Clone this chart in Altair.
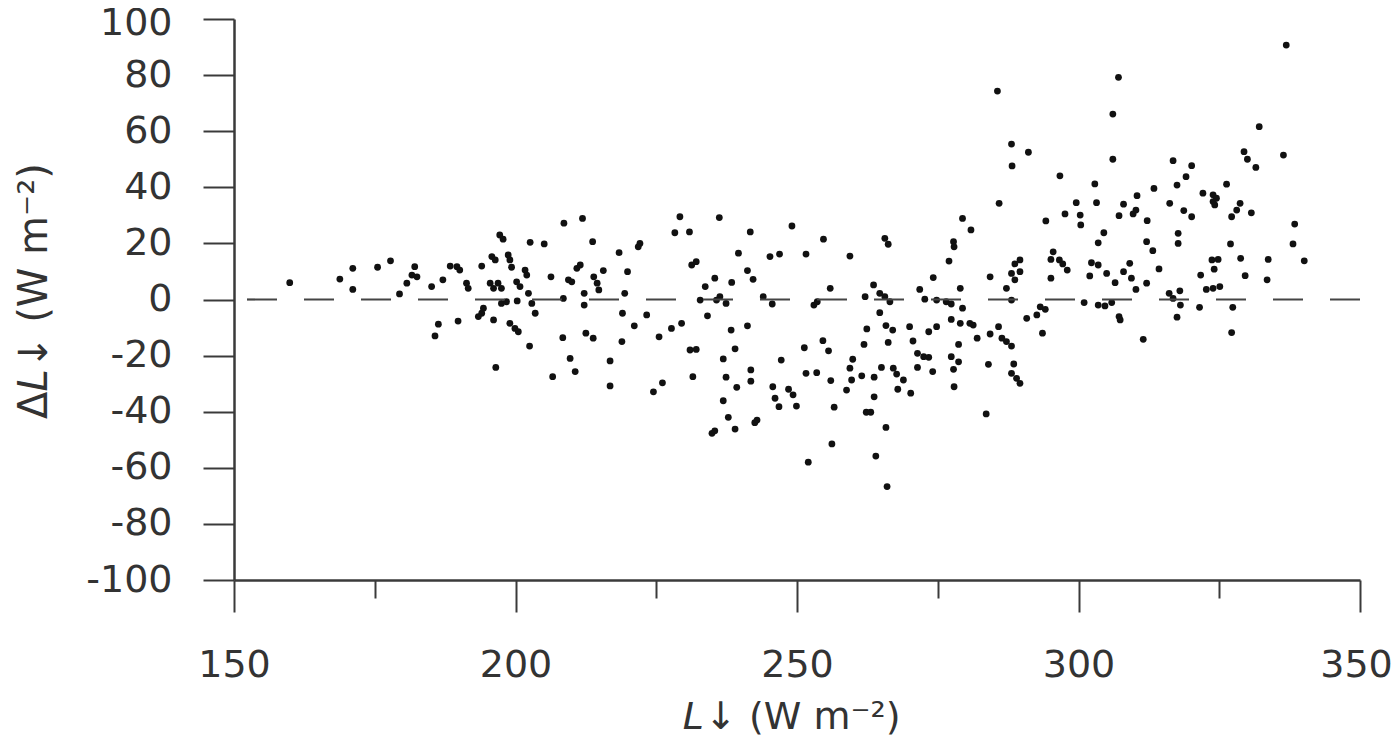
import altair as alt
import pandas as pd

# L-down (W m-2)
lw = [159.9, 168.8, 171.1, 171.1, 175.5, 177.8, 182.1, 181.6, 182.5, 180.7,
      179.4, 185.1, 187.1, 188.4, 189.6, 190.1, 186.3, 185.7, 189.8, 191.3,
      191.6, 194.0, 195.8, 196.4, 197.2, 197.8, 198.7, 199.0, 199.3, 195.5,
      196.1, 196.9, 197.5, 197.5, 198.4, 194.3, 194.0, 193.4, 196.1, 199.0,
      199.9, 200.5, 196.5, 200.2, 200.8, 201.7, 202.0, 202.3, 202.9, 203.5,
      202.6, 205.1, 200.3, 202.5, 206.3, 208.5, 208.6, 211.9, 213.7, 209.4,
      210.0, 210.9, 211.5, 212.2, 212.2, 213.9, 214.5, 214.8, 215.6, 208.4,
      209.7, 212.5, 213.8, 210.6, 206.6, 216.8, 216.8, 218.9, 219.0, 219.4,
      219.9, 218.4, 221.1, 222.1, 221.8,
      229.2, 236.2, 228.3, 230.9, 241.7, 249.1, 239.6, 245.2, 246.9, 251.6,
      231.3, 232.1, 241.2, 242.2, 235.4, 238.4, 233.7, 232.8, 235.7, 236.3,
      237.4, 244.0, 245.6, 253.0, 253.6, 223.3, 234.1, 225.5, 227.7, 229.5,
      238.3, 241.2, 231.0, 232.1, 239.0, 251.3, 236.9, 247.2, 231.5, 237.4,
      241.8, 241.8, 251.6, 253.5, 226.1, 224.5, 239.3, 245.7, 248.5, 249.3,
      236.9, 237.8, 239.0, 242.5, 242.9, 234.9, 235.4, 252.0, 246.1, 246.8,
      249.9,
      279.4, 280.9, 277.8, 277.9, 277.0, 254.7, 259.4, 265.6, 266.2, 274.2,
      284.3, 255.9, 263.6, 262.1, 264.7, 265.6, 266.5, 264.7, 271.8, 272.7,
      274.8, 276.5, 279.0, 277.4, 279.4, 262.4, 265.8, 267.0, 270.0, 273.4,
      274.8, 277.4, 279.0, 280.7, 281.3, 282.0, 284.3, 285.8, 254.6, 255.6,
      261.9, 266.2, 270.6, 271.4, 272.5, 273.4, 278.7, 277.4, 278.7, 259.9,
      259.4, 256.0, 259.7, 261.5, 263.7, 265.0, 267.1, 267.7, 268.9, 271.4,
      274.1, 277.8, 284.0, 258.8, 263.7, 267.9, 270.2, 277.9, 256.6, 262.3,
      263.1, 265.8, 256.2, 264.0, 266.0, 283.6, 285.9,
      285.6, 288.1, 291.1, 288.2, 296.7, 294.2, 297.6, 299.6, 300.3, 300.4,
      302.9, 303.2, 306.1, 307.1, 306.1, 316.8, 313.4, 310.4, 308.0, 307.2,
      309.7, 310.2, 312.2, 316.2, 317.5, 304.5, 303.5, 312.1, 313.2, 314.3,
      317.7, 317.7, 289.6, 288.7, 288.1, 289.6, 288.7, 287.2, 295.1, 295.5,
      295.1, 296.6, 297.2, 298.0, 302.3, 303.5, 302.0, 305.0, 306.5, 309.1,
      308.0, 309.4, 310.2, 312.1, 288.1, 290.8, 292.6, 293.2, 294.1, 293.6,
      301.0, 303.5, 304.7, 305.9, 307.2, 307.4, 311.5, 316.1, 316.8, 317.5,
      286.4, 287.2, 288.1, 288.5, 288.1, 289.0, 289.6,
      336.9, 332.1, 336.4, 329.4, 330.0, 331.5, 320.1, 319.1, 326.3, 322.1,
      323.9, 324.5, 324.2, 323.9, 318.7, 320.1, 328.7, 328.1, 327.2, 330.7,
      338.4, 338.1, 340.1, 327.0, 328.8, 333.7, 323.7, 324.8, 324.1, 321.7,
      329.6, 333.5, 322.7, 323.9, 325.1, 318.0, 318.1, 321.5, 327.4, 327.2]

# Delta L-down (W m-2)
dlw = [6.0, 7.3, 11.1, 3.6, 11.5, 13.8, 11.7, 8.7, 8.1, 5.8,
       2.0, 4.6, 7.0, 11.9, 11.7, 10.5, -8.8, -13.0, -7.7, 5.8,
       4.0, 11.9, 15.3, 14.1, 23.0, 21.5, 15.9, 14.1, 11.5, 5.8,
       4.0, 5.8, 4.0, -1.4, -0.8, -3.1, -4.9, -6.1, -7.3, -8.5,
       -10.3, -11.5, -24.2, 6.3, 4.6, 10.5, 8.7, 2.2, -1.4, -4.9,
       20.4, 19.8, -0.5, -16.6, 8.1, 0.4, 27.2, 28.9, 20.6, 7.0,
       6.3, 11.1, 12.3, 2.2, -2.0, 8.1, 5.8, 3.4, 10.3, -13.6,
       -21.0, -12.0, -13.8, -25.7, -27.5, -21.9, -30.8, -15.0, -4.9, 2.2,
       9.9, 16.7, -9.4, 20.0, 18.8,
       29.5, 29.2, 23.8, 24.1, 24.1, 26.2, 16.5, 15.3, 16.2, 16.2,
       12.3, 13.5, 10.3, 7.2, 7.6, 6.1, 4.6, -0.2, -0.2, 1.0,
       -1.4, 1.0, -1.6, -2.0, -0.8, -5.5, -5.8, -13.3, -10.3, -8.5,
       -10.9, -9.4, -18.0, -17.8, -17.6, -17.2, -21.2, -21.6, -27.5, -27.7,
       -25.1, -29.1, -26.3, -26.1, -29.7, -32.9, -31.3, -31.1, -32.0, -34.0,
       -36.1, -42.0, -46.2, -43.9, -43.0, -47.7, -46.8, -58.0, -35.2, -38.2,
       -38.0,
       28.9, 24.8, 20.6, 18.8, 13.7, 21.5, 15.5, 21.8, 19.7, 7.8,
       8.1, 4.0, 5.2, 1.0, 2.2, 1.0, -0.8, -4.7, 3.6, 0.1,
       -0.2, -0.8, 4.0, -1.6, -3.1, -10.5, -9.3, -10.9, -9.7, -11.5,
       -9.7, -7.1, -8.5, -8.5, -9.1, -13.8, -12.3, -9.7, -14.7, -18.3,
       -16.0, -15.3, -14.8, -19.2, -20.4, -20.6, -16.0, -20.4, -22.2, -21.3,
       -24.5, -28.9, -28.7, -27.2, -27.7, -24.2, -24.5, -26.6, -28.7, -24.2,
       -25.7, -24.9, -23.1, -32.3, -34.7, -32.0, -33.4, -31.1, -38.4, -40.2,
       -40.2, -45.6, -51.5, -55.8, -66.7, -40.8, 34.3,
       74.3, 55.4, 52.5, 47.6, 44.1, 28.0, 30.5, 34.5, 30.1, 26.6,
       41.2, 34.5, 66.1, 79.2, 50.0, 49.5, 39.6, 37.0, 34.0, 29.9,
       30.5, 31.9, 28.1, 34.3, 40.8, 23.8, 20.2, 20.6, 17.4, 10.9,
       23.6, 20.0, 14.1, 12.7, 9.3, 9.9, 7.0, 4.0, 7.6, 17.0,
       14.3, 14.1, 12.7, 10.5, 13.1, 12.3, 8.4, 9.3, 6.0, 12.9,
       9.9, 7.6, 3.6, 5.8, -0.2, -6.7, -5.5, -2.6, -3.5, -12.0,
       -1.1, -2.0, -2.3, -1.1, -6.1, -7.3, -14.2, 2.2, 0.4, -6.3,
       -13.8, -15.0, -16.6, -23.0, -26.3, -28.1, -29.9,
       90.7, 61.6, 51.5, 52.7, 50.0, 47.1, 47.7, 43.8, 41.1, 37.9,
       37.3, 36.1, 33.7, 34.9, 31.7, 29.5, 34.3, 31.9, 29.5, 30.9,
       26.9, 19.8, 13.8, 19.8, 14.7, 14.3, 14.1, 14.3, 10.8, 8.7,
       8.5, 7.0, 3.6, 4.0, 4.6, 3.1, -2.0, -2.8, -2.8, -11.8]

x_ticks = [150, 175, 200, 225, 250, 275, 300, 325, 350]
y_ticks = [-100, -80, -60, -40, -20, 0, 20, 40, 60, 80, 100]
zero = [0]

# axis titles, split so that the symbol L can be italic
x_title = ["L", "↓ (W m⁻²)"]
y_title = ["Δ", "L", "↓ (W m⁻²)"]

df = pd.DataFrame({"lw": lw, "dlw": dlw})
zdf = pd.DataFrame({"z": zero})
one = pd.DataFrame({"k": [0]})

FONT = "DejaVu Sans"
AX = "#3a3a3a"
TXT = "#333333"

points = alt.Chart(df).mark_circle(size=46, color="#111111", opacity=1).encode(
    x=alt.X("lw:Q",
            scale=alt.Scale(domain=[150, 350], nice=False, zero=False),
            axis=alt.Axis(values=x_ticks, title=None,
                          labelExpr="datum.value % 50 === 0 ? '' + datum.value : ''",
                          labelOffset={"condition": {"test": "datum.value === 350", "value": -4}, "value": 0},
                          tickSize={"condition": {"test": "datum.value % 50 === 0", "value": 32}, "value": 18},
                          labelPadding=34)),
    y=alt.Y("dlw:Q",
            scale=alt.Scale(domain=[-100, 100], nice=False, zero=False),
            axis=alt.Axis(values=y_ticks, title=None,
                          labelExpr="'' + datum.value",
                          labelOffset={"condition": {"test": "datum.value === 100", "value": 4}, "value": 0},
                          tickSize=31, labelPadding=31)),
)

zline = alt.Chart(zdf).mark_rule(color="#444444", strokeWidth=2.2,
                                 strokeDash=[30, 27]).encode(y=alt.Y("z:Q"))

# x-axis title pieces
xs = 38
xt1 = alt.Chart(one).mark_text(font=FONT, fontSize=xs, fontStyle="italic", color=TXT,
                               align="right", baseline="middle").encode(
    x=alt.value(470), y=alt.value(699), text=alt.value(x_title[0]))
xt2 = alt.Chart(one).mark_text(font=FONT, fontSize=xs, color=TXT,
                               align="left", baseline="middle").encode(
    x=alt.value(471), y=alt.value(699), text=alt.value(x_title[1]))

# y-axis title pieces (rotated)
ys = 40
yt1 = alt.Chart(one).mark_text(font=FONT, fontSize=ys, color=TXT, angle=270,
                               align="left", baseline="middle").encode(
    x=alt.value(-199), y=alt.value(400), text=alt.value(y_title[0]))
yt2 = alt.Chart(one).mark_text(font=FONT, fontSize=ys, fontStyle="italic", color=TXT, angle=270,
                               align="left", baseline="middle").encode(
    x=alt.value(-199), y=alt.value(372.5), text=alt.value(y_title[1]))
yt3 = alt.Chart(one).mark_text(font=FONT, fontSize=ys, color=TXT, angle=270,
                               align="left", baseline="middle").encode(
    x=alt.value(-199), y=alt.value(350), text=alt.value(y_title[2]))

chart = alt.layer(points, zline, xt1, xt2, yt1, yt2, yt3).properties(
    width=1126, height=561,
    autosize=alt.AutoSizeParams(type="none"),
    padding={"left": 226, "top": 11, "right": 32, "bottom": 158},
).configure_view(stroke=None).configure_axis(
    grid=False,
    domainColor=AX, domainWidth=2.5,
    tickColor=AX, tickWidth=2,
    labelFont=FONT, labelFontSize=38, labelColor=TXT,
    labelFlush=False, labelOverlap=False,
)

chart.save("out.html", embed_options={"renderer": "svg", "actions": False})
